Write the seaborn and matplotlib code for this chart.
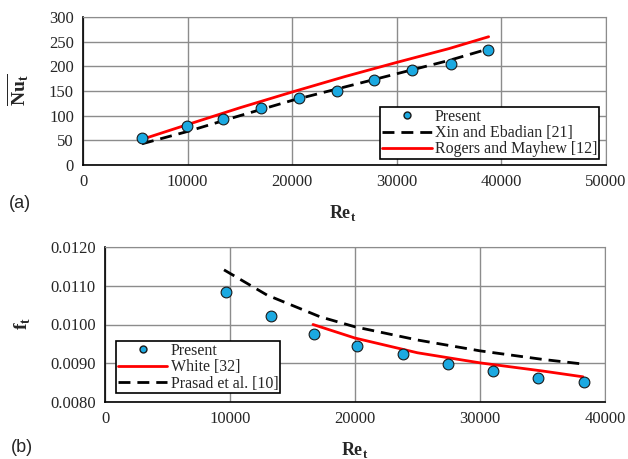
import numpy as np
import matplotlib
matplotlib.use("Agg")
import matplotlib.pyplot as plt
import seaborn as sns
from matplotlib.lines import Line2D

# ---- panel (a): Nusselt number ----
re_present_a = [5640, 9930, 13400, 17060, 20630, 24260, 27800, 31500, 35150, 38680]
nu_present = [55, 79, 94, 116, 135, 150, 172, 192, 205, 233]
re_xin = [5640, 10000, 15000, 20000, 25000, 30000, 35000, 38700]
nu_xin = [43, 68, 100, 131, 158, 185, 212, 235]
re_rogers = [5640, 10000, 15000, 20000, 25000, 30000, 35000, 38780]
nu_rogers = [52, 82, 116, 148, 179, 208, 236, 260]

# ---- panel (b): friction factor ----
re_present_b = [9680, 13280, 16720, 20160, 23840, 27440, 31040, 34640, 38320]
f_present = [0.01084, 0.01022, 0.00976, 0.00945, 0.00924, 0.00898, 0.00880, 0.00862, 0.00852]
re_white = [16640, 20000, 25000, 30000, 35000, 38240]
f_white = [0.01000, 0.00965, 0.00927, 0.00901, 0.00880, 0.00865]
re_prasad = [9520, 12960, 17200, 20000, 25000, 30000, 35000, 38240]
f_prasad = [0.01141, 0.01076, 0.01020, 0.00994, 0.00960, 0.00932, 0.00910, 0.00898]

sns.set_style("white")
plt.rcParams['font.family'] = ['Liberation Serif', 'DejaVu Serif']
plt.rcParams['mathtext.fontset'] = 'custom'
plt.rcParams['mathtext.rm'] = 'Liberation Serif'
plt.rcParams['mathtext.bf'] = 'Liberation Serif:bold'

dot = '#1BA9E1'
dash = [4.3, 2.5]
W, H = 628, 459
fig = plt.figure(figsize=(6.28, 4.59), dpi=100)
ax1 = fig.add_axes([83 / W, 1 - 165 / H, (606 - 83) / W, (165 - 17) / H])
ax2 = fig.add_axes([105 / W, 1 - 402 / H, (605 - 105) / W, (402 - 247) / H])


def style(ax):
    ax.grid(True, color='#8c8c8c', linewidth=1)
    ax.set_axisbelow(True)
    for s in ['top', 'right']:
        ax.spines[s].set_color('#8c8c8c')
    for s in ['left', 'bottom']:
        ax.spines[s].set_color('black')
        ax.spines[s].set_linewidth(1.2)
    ax.tick_params(axis='both', direction='inout', length=7, width=1,
                   labelsize=12, color='black', pad=3)


# panel a
sns.lineplot(x=re_rogers, y=nu_rogers, ax=ax1, color='red', linewidth=2)
sns.lineplot(x=re_xin, y=nu_xin, ax=ax1, color='black', linewidth=2)
ax1.lines[-1].set_dashes(dash)
sns.scatterplot(x=re_present_a, y=nu_present, ax=ax1, color=dot, s=60,
                edgecolor='#1a1a1a', linewidth=0.8, zorder=5)
ax1.set_xlim(0, 50000)
ax1.set_ylim(0, 300)
ax1.set_xticks(np.arange(0, 50001, 10000))
ax1.set_yticks(np.arange(0, 301, 50))
style(ax1)
h_a = [Line2D([], [], marker='o', ls='none', color=dot, markeredgecolor='#1a1a1a', markersize=5),
       Line2D([], [], color='black', lw=2, dashes=dash),
       Line2D([], [], color='red', lw=2)]
leg = ax1.legend(h_a, ['Present', 'Xin and Ebadian [21]', 'Rogers and Mayhew [12]'],
                 loc='lower right', bbox_to_anchor=(0.998, 0.0), fontsize=11.5, frameon=True,
                 fancybox=False, edgecolor='black', framealpha=1, handlelength=3.1,
                 labelspacing=0.02, borderpad=0.12, handletextpad=0.2, borderaxespad=0.35)
leg.get_frame().set_linewidth(1.2)
ax1.set_xlabel('')
ax1.set_ylabel('')

# panel b
sns.lineplot(x=re_prasad, y=f_prasad, ax=ax2, color='black', linewidth=2)
ax2.lines[-1].set_dashes(dash)
sns.lineplot(x=re_white, y=f_white, ax=ax2, color='red', linewidth=2)
sns.scatterplot(x=re_present_b, y=f_present, ax=ax2, color=dot, s=60,
                edgecolor='#1a1a1a', linewidth=0.8, zorder=5)
ax2.set_xlim(0, 40000)
ax2.set_ylim(0.008, 0.012)
ax2.set_xticks(np.arange(0, 40001, 10000))
ax2.set_yticks(np.arange(0.008, 0.01201, 0.001))
ax2.set_yticklabels(['%.4f' % v for v in np.arange(0.008, 0.01201, 0.001)])
style(ax2)
h_b = [Line2D([], [], marker='o', ls='none', color=dot, markeredgecolor='#1a1a1a', markersize=5),
       Line2D([], [], color='red', lw=2),
       Line2D([], [], color='black', lw=2, dashes=dash)]
leg2 = ax2.legend(h_b, ['Present', 'White [32]', 'Prasad et al. [10]'],
                  loc='lower left', bbox_to_anchor=(0.022, 0.055), fontsize=11.5, frameon=True,
                  fancybox=False, edgecolor='black', framealpha=1, handlelength=3.1,
                  labelspacing=0.02, borderpad=0.12, handletextpad=0.2, borderaxespad=0.0)
leg2.get_frame().set_linewidth(1.2)
ax2.set_xlabel('')
ax2.set_ylabel('')

# labels
fig.text(343 / W, 1 - 213 / H, r'$\mathbf{Re}_\mathbf{t}$', ha='center', va='center', fontsize=13)
fig.text(355 / W, 1 - 450 / H, r'$\mathbf{Re}_\mathbf{t}$', ha='center', va='center', fontsize=13)
fig.text(18 / W, 1 - 90 / H, r'$\overline{\mathbf{Nu}_\mathbf{t}}$', ha='center', va='center',
         fontsize=14, rotation=90)
fig.text(23 / W, 1 - 323 / H, r'$\mathbf{f}_\mathbf{t}$', ha='center', va='center',
         fontsize=14, rotation=90)
fig.text(20 / W, 1 - 203 / H, '(a)', ha='center', va='center', fontsize=13, family='Liberation Sans')
fig.text(22 / W, 1 - 447 / H, '(b)', ha='center', va='center', fontsize=13, family='Liberation Sans')

fig.savefig('out.png', dpi=100)
